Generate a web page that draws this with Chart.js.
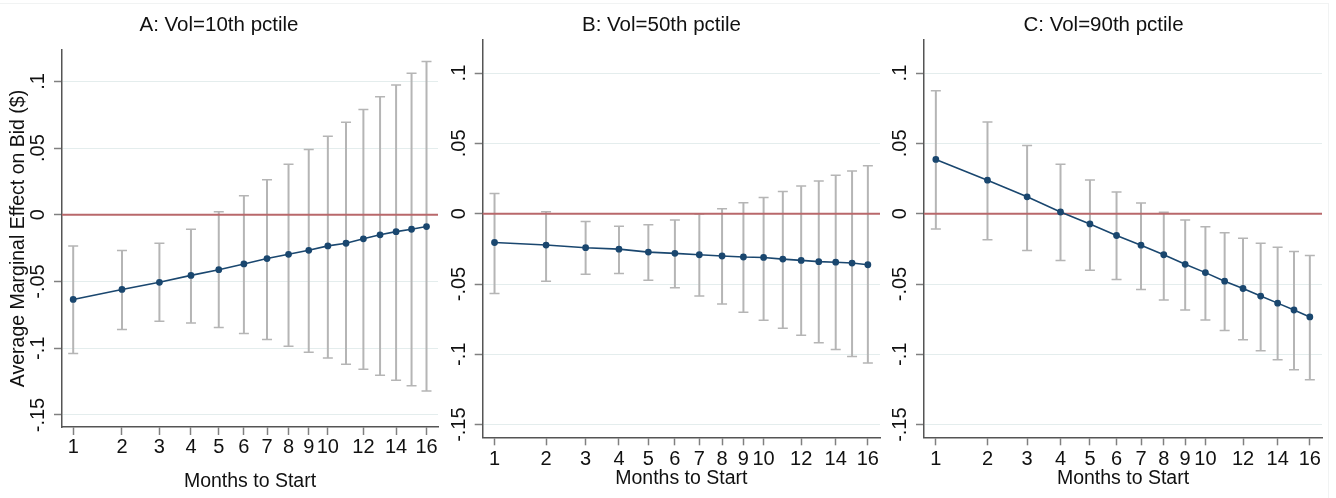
<!DOCTYPE html>
<html>
<head>
<meta charset="utf-8">
<title>Average marginal effect on bid by months to start</title>
<script src="https://cdn.jsdelivr.net/npm/chart.js@4.4.1/dist/chart.umd.min.js"></script>
<style>
  html, body { margin: 0; padding: 0; background: #fff; }
  #wrap { position: relative; width: 1336px; height: 498px; overflow: hidden; }
  #wrap canvas { position: absolute; top: 0; }
  .edge-top { position: absolute; left: 0; top: 3px; width: 1328px; height: 1px; background: #f1f3f3; }
  .edge-right { position: absolute; left: 1328px; top: 3px; width: 1px; height: 495px; background: #f1f3f3; }
</style>
</head>
<body>
<div id="wrap">
  <div class="edge-top"></div>
  <div class="edge-right"></div>
  <canvas id="panelA" width="453" height="498" style="left:0px"></canvas>
  <canvas id="panelB" width="442" height="498" style="left:443px"></canvas>
  <canvas id="panelC" width="442" height="498" style="left:885px"></canvas>
</div>
<script>
// months to start (x), ticks shown on the axis, y ticks
const months = [1, 2, 3, 4, 5, 6, 7, 8, 9, 10, 11, 12, 13, 14, 15, 16];
const monthTicks = [1, 2, 3, 4, 5, 6, 7, 8, 9, 10, 12, 14, 16];
const yTicks = [-0.15, -0.1, -0.05, 0, 0.05, 0.1];

// A: Vol=10th pctile
const estA = [-0.0634, -0.0559, -0.0506, -0.0454, -0.0411, -0.0368, -0.0328, -0.0296, -0.0266, -0.0233, -0.0213, -0.0180, -0.0150, -0.0126, -0.0108, -0.0088];
const highA = [-0.0233, -0.0268, -0.0213, -0.0108, 0.0023, 0.0143, 0.0263, 0.0378, 0.0489, 0.0589, 0.0694, 0.0790, 0.0885, 0.0972, 0.1060, 0.1148];
const lowA = [-0.1040, -0.0860, -0.0797, -0.0810, -0.0845, -0.0890, -0.0935, -0.0985, -0.1030, -0.1073, -0.1120, -0.1158, -0.1203, -0.1240, -0.1280, -0.1320];

// B: Vol=50th pctile
const estB = [-0.0205, -0.0223, -0.0242, -0.0252, -0.0273, -0.0282, -0.0292, -0.0301, -0.0308, -0.0311, -0.0323, -0.0332, -0.0341, -0.0345, -0.0351, -0.0363];
const highB = [0.0143, 0.0014, -0.0056, -0.0090, -0.0078, -0.0045, -0.0002, 0.0035, 0.0078, 0.0115, 0.0158, 0.0196, 0.0233, 0.0273, 0.0304, 0.0341];
const lowB = [-0.0567, -0.0480, -0.0430, -0.0425, -0.0473, -0.0527, -0.0586, -0.0643, -0.0700, -0.0758, -0.0815, -0.0864, -0.0918, -0.0965, -0.1015, -0.1062];

// C: Vol=90th pctile
const estC = [0.0386, 0.0238, 0.0120, 0.0012, -0.0073, -0.0155, -0.0224, -0.0292, -0.0360, -0.0419, -0.0480, -0.0532, -0.0586, -0.0636, -0.0685, -0.0734];
const highC = [0.0874, 0.0652, 0.0485, 0.0351, 0.0240, 0.0155, 0.0076, 0.0010, -0.0045, -0.0092, -0.0136, -0.0174, -0.0210, -0.0238, -0.0268, -0.0297];
const lowC = [-0.0108, -0.0186, -0.0261, -0.0332, -0.0403, -0.0468, -0.0539, -0.0614, -0.0685, -0.0756, -0.0831, -0.0897, -0.0975, -0.1038, -0.1109, -0.1180];

const FONT = "'Liberation Sans', Arial, sans-serif";
const NAVY = '#1a476f';

// x axis is drawn on a square-root scale, like the original graph
class SqrtScale extends Chart.LinearScale {
    buildTicks() {
        return monthTicks.map(v => ({ value: v }));
    }
    getPixelForValue(value) {
        const a = Math.sqrt(this.min);
        const b = Math.sqrt(this.max);
        return this.getPixelForDecimal((Math.sqrt(value) - a) / (b - a));
    }
    getValueForPixel(pixel) {
        const a = Math.sqrt(this.min);
        const b = Math.sqrt(this.max);
        const s = a + this.getDecimalForPixel(pixel) * (b - a);
        return s * s;
    }
}
SqrtScale.id = 'sqrt';
SqrtScale.defaults = Chart.LinearScale.defaults;
Chart.register(SqrtScale);

const errorBarPlugin = {
    id: 'errorBars',
    beforeDatasetsDraw(chart, args, opts) {
        const { ctx, chartArea, scales: { x, y } } = chart;
        ctx.save();
        ctx.strokeStyle = '#b5b5b5';
        opts.low.forEach((lo, i) => {
            const px = x.getPixelForValue(months[i]);
            const top = y.getPixelForValue(opts.high[i]);
            const bot = y.getPixelForValue(lo);
            ctx.lineWidth = 2;
            ctx.beginPath();
            ctx.moveTo(px, top);
            ctx.lineTo(px, bot);
            ctx.stroke();
            ctx.lineWidth = 1.5;
            ctx.beginPath();
            ctx.moveTo(px - 5, top);
            ctx.lineTo(px + 5, top);
            ctx.moveTo(px - 5, bot);
            ctx.lineTo(px + 5, bot);
            ctx.stroke();
        });

        const y0 = y.getPixelForValue(0);
        ctx.strokeStyle = '#b9686b';
        ctx.lineWidth = 2;
        ctx.beginPath();
        ctx.moveTo(chartArea.left, y0);
        ctx.lineTo(chartArea.right, y0);
        ctx.stroke();
        ctx.restore();
    }
};

function formatY(v) {
    if (Math.abs(v) < 1e-9) {
        return '0';
    }
    return String(+v.toFixed(2)).replace('0.', '.');
}

function makePanel(id, title, est, low, high, box) {
    return new Chart(document.getElementById(id), {
        type: 'line',
        data: {
            datasets: [{
                data: months.map((m, i) => ({ x: m, y: est[i] })),
                borderColor: NAVY,
                backgroundColor: NAVY,
                borderWidth: 1.6,
                pointRadius: 2.6,
                pointHoverRadius: 2.6,
                tension: 0
            }]
        },
        options: {
            responsive: false,
            animation: false,
            devicePixelRatio: 1,
            layout: { padding: { left: 0, right: box.right, top: 0, bottom: 0 } },
            plugins: {
                legend: { display: false },
                tooltip: { enabled: false },
                title: {
                    display: true,
                    text: title,
                    color: '#111',
                    font: { family: FONT, size: 20.5, weight: 'normal' },
                    padding: { top: 12.7, bottom: box.titleBottom }
                },
                errorBars: { low: low, high: high }
            },
            scales: {
                x: {
                    type: 'sqrt',
                    min: 0.819,
                    max: 16.79,
                    afterFit: s => { s.height = box.xHeight; },
                    grid: { drawOnChartArea: false, drawTicks: true, tickLength: 8, tickColor: '#808080', tickWidth: 1.5 },
                    border: { display: true, color: '#555', width: 1.5 },
                    ticks: {
                        autoSkip: false,
                        maxRotation: 0,
                        minRotation: 0,
                        padding: box.xPad,
                        color: '#111',
                        font: { family: FONT, size: 20 },
                        callback: v => String(v)
                    },
                    title: {
                        display: true,
                        text: 'Months to Start',
                        color: '#111',
                        font: { family: FONT, size: 19.5 },
                        padding: { top: 0, bottom: box.xTitlePad }
                    }
                },
                y: {
                    min: -0.159,
                    max: 0.1235,
                    afterBuildTicks: s => { s.ticks = yTicks.map(v => ({ value: v })); },
                    afterFit: s => { s.width = box.yWidth; },
                    grid: { color: '#e4eded', lineWidth: 1, drawTicks: true, tickLength: 8, tickColor: '#808080', tickWidth: 1.5 },
                    border: { display: true, color: '#555', width: 1.5 },
                    ticks: {
                        minRotation: 90,
                        maxRotation: 90,
                        crossAlign: 'center',
                        padding: -2.2,
                        color: '#111',
                        font: { family: FONT, size: 20 },
                        callback: v => formatY(v)
                    },
                    title: {
                        display: !!box.yTitle,
                        text: box.yTitle || '',
                        color: '#111',
                        font: { family: FONT, size: 19.5 },
                        padding: { top: 6.8, bottom: 0 }
                    }
                }
            }
        },
        plugins: [errorBarPlugin]
    });
}

makePanel('panelA', 'A: Vol=10th pctile', estA, lowA, highA,
    { right: 15, titleBottom: 12.7, xHeight: 71, xPad: 0, xTitlePad: 4.3, yWidth: 62, yTitle: 'Average Marginal Effect on Bid ($)' });
makePanel('panelB', 'B: Vol=50th pctile', estB, lowB, highB,
    { right: 5, titleBottom: 2.7, xHeight: 60.7, xPad: 2.2, xTitlePad: 7.3, yWidth: 39.7 });
makePanel('panelC', 'C: Vol=90th pctile', estC, lowC, highC,
    { right: 5, titleBottom: 2.7, xHeight: 60.7, xPad: 2.2, xTitlePad: 7.3, yWidth: 39 });
</script>
</body>
</html>
